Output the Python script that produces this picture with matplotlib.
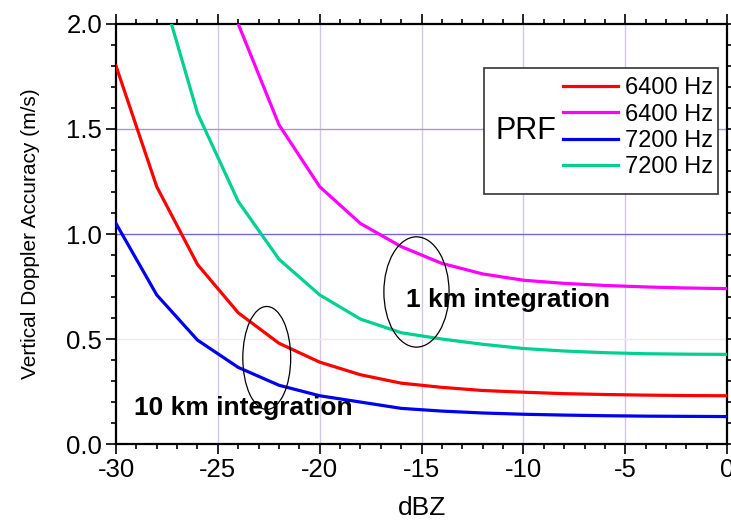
import numpy as np
import matplotlib
matplotlib.use("Agg")
import matplotlib.pyplot as plt
from matplotlib.patches import Ellipse, Rectangle
from matplotlib.ticker import MultipleLocator, FormatStrFormatter

plt.rcParams.update({
    "font.family": ["Liberation Sans", "DejaVu Sans"],
    "axes.unicode_minus": False,
})

nan = np.nan
dbz = [-30, -28, -26, -24, -22, -20, -18, -16, -14, -12, -10, -8, -6, -4, -2, 0]

# 10 km integration
red_6400 = [1.80, 1.225, 0.855, 0.625, 0.48, 0.39, 0.33, 0.29, 0.27, 0.255, 0.247, 0.24, 0.236, 0.233, 0.231, 0.23]
blue_7200 = [1.05, 0.71, 0.495, 0.365, 0.28, 0.23, 0.20, 0.17, 0.157, 0.148, 0.142, 0.138, 0.135, 0.133, 0.132, 0.131]
# 1 km integration
magenta_6400 = [nan, nan, 2.6, 2.0, 1.52, 1.225, 1.05, 0.94, 0.86, 0.81, 0.78, 0.765, 0.755, 0.748, 0.743, 0.74]
green_7200 = [nan, 2.24, 1.575, 1.155, 0.88, 0.71, 0.595, 0.53, 0.50, 0.475, 0.455, 0.443, 0.435, 0.43, 0.428, 0.427]

series = [
    ("6400 Hz", red_6400, "#ff0000"),
    ("6400 Hz", magenta_6400, "#ff00ff"),
    ("7200 Hz", blue_7200, "#0000f0"),
    ("7200 Hz", green_7200, "#00d090"),
]

fig = plt.figure(figsize=(7.31, 5.2), dpi=100)
ax = fig.add_axes([0.1587, 0.146, 0.836, 0.808])

# grid lines
for xv in [-25, -20, -15, -10, -5]:
    ax.axvline(xv, color="#d4c6ea", lw=1.0, zorder=0)
for yv, c in [(0.5, "#f2e4f2"), (1.0, "#7565d8"), (1.5, "#a898d0")]:
    ax.axhline(yv, color=c, lw=1.0, zorder=0)

handles = []
for label, vals, color in series:
    h, = ax.plot(dbz, vals, color=color, lw=2.3, label=label, zorder=3)
    handles.append(h)

ax.set_xlim(-30, 0)
ax.set_ylim(0, 2.0)
ax.xaxis.set_major_locator(MultipleLocator(5))
ax.xaxis.set_minor_locator(MultipleLocator(1))
ax.yaxis.set_major_locator(MultipleLocator(0.5))
ax.yaxis.set_minor_locator(MultipleLocator(0.1))
ax.yaxis.set_major_formatter(FormatStrFormatter("%.1f"))
ax.tick_params(which="both", direction="out", top=True, right=True, width=1.2)
ax.tick_params(which="major", length=7, labelsize=18.5)
ax.tick_params(which="minor", length=3.5)
ax.tick_params(axis="x", pad=3)
ax.tick_params(axis="y", pad=3)
for s in ax.spines.values():
    s.set_linewidth(1.6)

ax.set_xlabel("dBZ", fontsize=19, labelpad=10)
ax.set_ylabel("Vertical Doppler Accuracy (m/s)", fontsize=15, labelpad=19)

# ellipses and annotations
ax.add_patch(Ellipse((-22.6, 0.41), 2.35, 0.49, fill=False, ec="black", lw=0.9, zorder=4))
ax.add_patch(Ellipse((-15.25, 0.724), 3.2, 0.525, fill=False, ec="black", lw=0.9, zorder=4))
ax.text(-15.75, 0.686, "1 km integration", fontsize=19, fontweight="bold", va="center", ha="left", zorder=5)
ax.text(-29.1, 0.17, "10 km integration", fontsize=19, fontweight="bold", va="center", ha="left", zorder=5)

# legend box with PRF label
ax.add_patch(Rectangle((0.602, 0.595), 0.383, 0.30, transform=ax.transAxes,
                       fill=True, fc="white", ec="#333333", lw=1.2, zorder=6))
ax.text(0.67, 0.745, "PRF", transform=ax.transAxes, fontsize=22, ha="center", va="center", zorder=7)
leg = ax.legend(handles=handles, loc="upper left", bbox_to_anchor=(0.705, 0.912),
                frameon=False, fontsize=17, handlelength=2.3, handletextpad=0.3,
                labelspacing=0.18, borderpad=0.2)
leg.set_zorder(8)

fig.savefig("out.png", dpi=100)
